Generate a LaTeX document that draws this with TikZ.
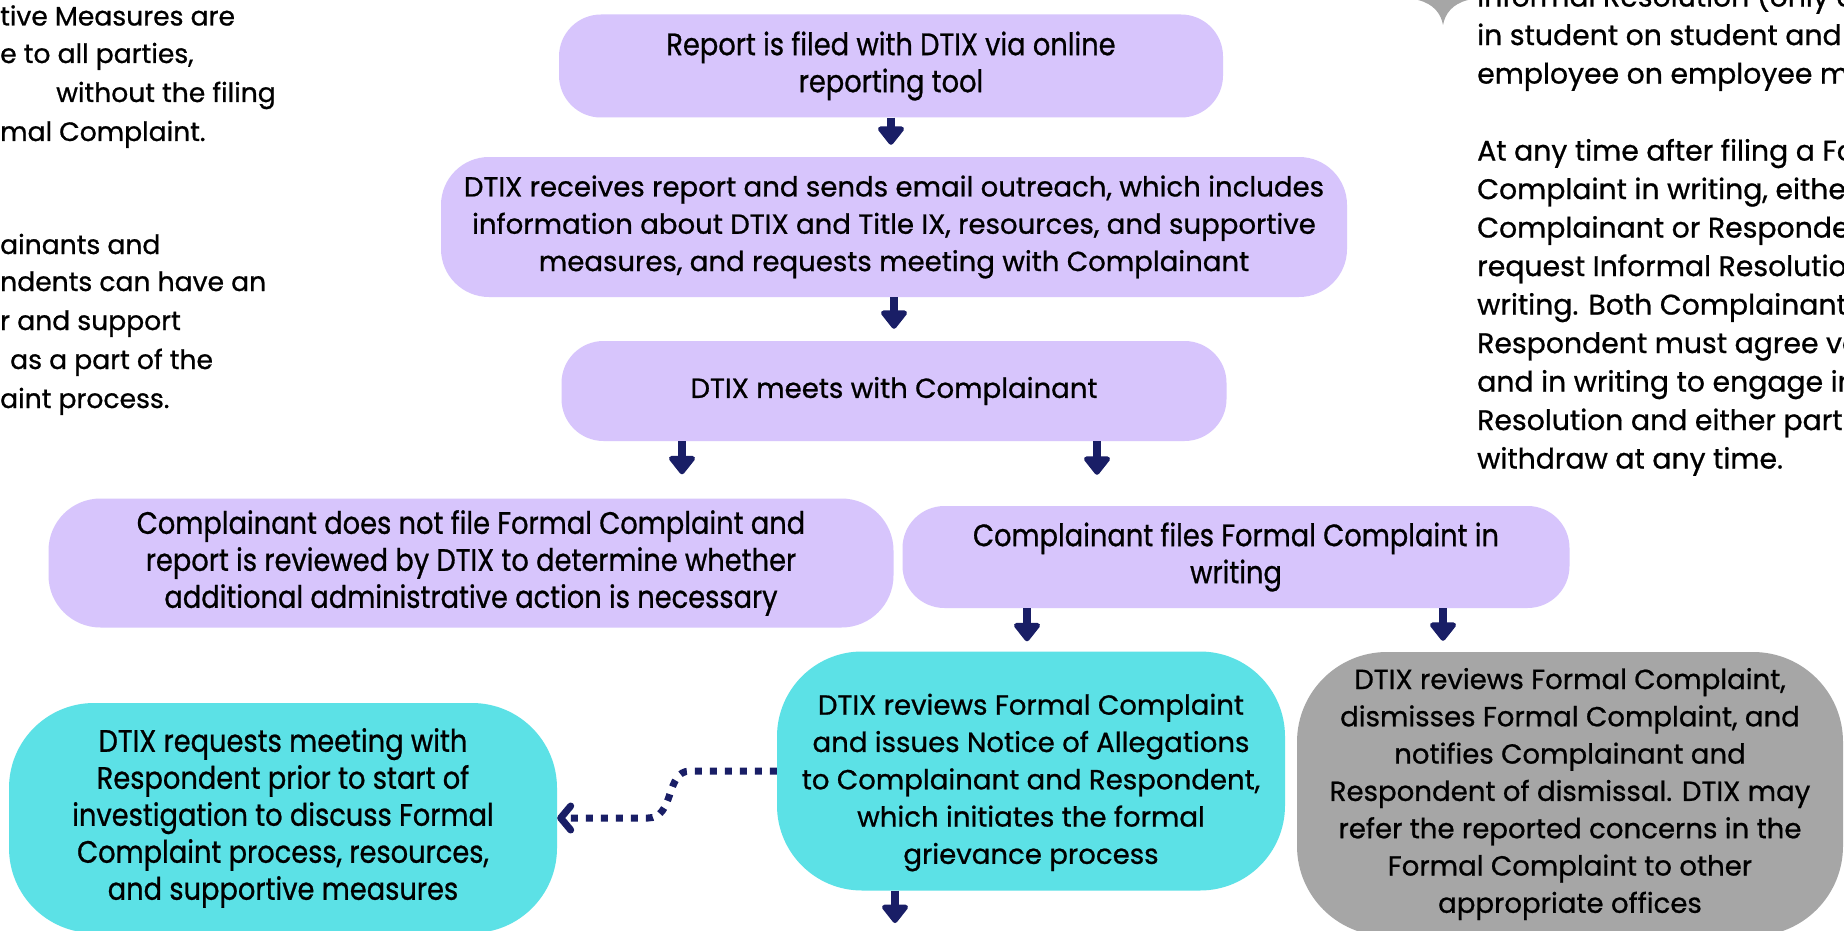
\documentclass[tikz,border=0pt]{standalone}
\usepackage{fontspec}
\setmainfont{Poppins}[FakeBold=0.8]
\newfontfamily\narrowfont[FakeStretch=0.88,FakeBold=0.8]{Poppins}
\usetikzlibrary{arrows.meta}
\definecolor{lav}{HTML}{D7C5FC}
\definecolor{cyanbox}{HTML}{5CE1E6}
\definecolor{graybox}{HTML}{A6A6A6}
\definecolor{navy}{HTML}{191E66}
\newcommand\regtext{\fontsize{27.6}{37.3}\selectfont}
\newcommand\nartext{\narrowfont\fontsize{31}{37}\selectfont}
\newcommand\lefttext{\fontsize{26.6}{38.3}\selectfont}
\newcommand\righttext{\fontsize{28.3}{38.5}\selectfont}
\begin{document}
\begin{tikzpicture}[x=1pt,y=-1pt,
  box/.style={rectangle, inner sep=0pt, align=center, text=black},
  lavbox/.style={box, fill=lav},
  cyabox/.style={box, fill=cyanbox},
  grybox/.style={box, fill=graybox},
  reg/.style={font=\regtext},
  nar/.style={font=\nartext},
  arr/.style={draw=navy, line width=8pt, -{Triangle[width=30pt,length=20pt,round]}},
  dotline/.style={draw=navy, line width=7pt, dash pattern=on 7pt off 8pt,
    -{Straight Barb[length=10pt,width=24pt,round]}},
  sidel/.style={inner sep=0pt, anchor=base west, font=\lefttext, text=black},
  sider/.style={inner sep=0pt, align=left, font=\righttext, text=black}]
\useasboundingbox (0,0) rectangle (1844,931);
\clip (0,0) rectangle (1844,931);
\fill[white] (0,0) rectangle (1844,931);

% left side text (cut off by the left edge)
\node[sidel] (l1) at (0,25.5) {tive Measures are};
\node[sidel] (l2) at (0,63) {e to all parties,};
\node[sidel] (l3) at (56,102) {without the filing};
\node[sidel] (l4) at (0,141) {mal Complaint.};
\node[sidel] (l5) at (0,254) {ainants and};
\node[sidel] (l6) at (0,291) {ndents can have an};
\node[sidel] (l7) at (0,330) {r and support};
\node[sidel] (l8) at (10,369) {as a part of the};
\node[sidel] (l9) at (0,408) {aint process.};

% right side text (cut off by the top and right edges)
\node[sider, anchor=west] (righttext) at (1477,228) {Informal Resolution (only a\\in student on student and\\employee on employee ma\\~\\At any time after filing a Fo\\Complaint in writing, eithe\\Complainant or Responde\\request Informal Resolutio\\writing. Both Complainant\\Respondent must agree vo\\and in writing to engage in\\Resolution and either part\\withdraw at any time.};
% grey star point
\fill[graybox] (1418,0) .. controls (1434,4) and (1441,14) .. (1443,25) .. controls (1445,14) and (1452,4) .. (1468,0) -- cycle;

% boxes
\node[lavbox, nar, minimum width=664pt, minimum height=103pt, rounded corners=42pt] (b1) at (891,66) {Report is filed with DTIX via online\\reporting tool};
\node[lavbox, reg, minimum width=906pt, minimum height=140pt, rounded corners=48pt] (b3) at (894,227) {DTIX receives report and sends email outreach, which includes\\information about DTIX and Title IX, resources, and supportive\\measures, and requests meeting with Complainant};
\node[lavbox, reg, minimum width=665pt, minimum height=100pt, rounded corners=42pt] (b5) at (894,391) {DTIX meets with Complainant};
\node[lavbox, nar, minimum width=845pt, minimum height=129pt, rounded corners=52pt] (b7) at (471,563) {Complainant does not file Formal Complaint and\\report is reviewed by DTIX to determine whether\\additional administrative action is necessary};
\node[lavbox, nar, minimum width=667pt, minimum height=102pt, rounded corners=42pt] (b8) at (1236,557) {Complainant files Formal Complaint in\\writing};
\node[cyabox, reg, minimum width=508pt, minimum height=239pt, rounded corners=85pt] (b10) at (1031,771) {\rule{0pt}{44pt}DTIX reviews Formal Complaint\\and issues Notice of Allegations\\to Complainant and Respondent,\\which initiates the formal\\grievance process};
\node[grybox, reg, minimum width=546pt, minimum height=284pt, rounded corners=90pt] (b11) at (1570,794) {DTIX reviews Formal Complaint,\\dismisses Formal Complaint, and\\notifies Complainant and\\Respondent of dismissal. DTIX may\\refer the reported concerns in the\\Formal Complaint to other\\appropriate offices};
\node[cyabox, nar, minimum width=548pt, minimum height=230pt, rounded corners=85pt] (b12) at (283,818) {DTIX requests meeting with\\Respondent prior to start of\\investigation to discuss Formal\\Complaint process, resources,\\and supportive measures};

% arrows
\draw[arr, shorten >=12pt] (b1.south) -- (b3.north -| b1.south);
\draw[arr, shorten >=12pt] (b3.south) -- (b5.north -| b3.south);
\draw[arr, shorten >=24pt] (b5.south -| 682,0) -- (b7.north -| 682,0);
\draw[arr, shorten >=31pt] (b5.south -| 1097,0) -- (b8.north -| 1097,0);
\draw[arr, shorten >=10pt] (b8.south -| 1027,0) -- (b10.north -| 1027,0);
\draw[arr, shorten >=11pt] (b8.south -| 1443,0) -- (b11.north -| 1443,0);
\coordinate (bottomend) at (895,923);
\draw[arr] (b10.south -| bottomend) -- (bottomend);
\draw[dotline] (b10.west) -- (690,771) .. controls (665,771) and (675,818) .. (648,818) -- (b12.east);
\end{tikzpicture}
\end{document}
